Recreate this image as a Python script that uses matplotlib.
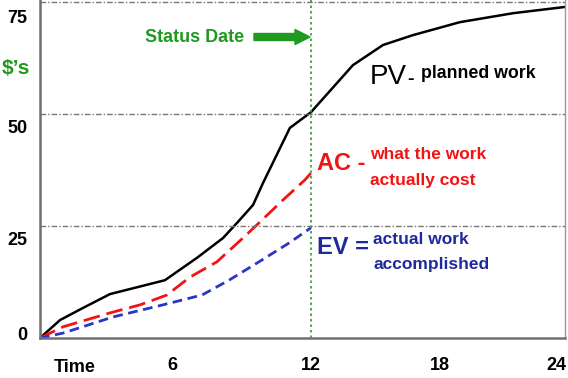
import numpy as np
import matplotlib
matplotlib.use("Agg")
import matplotlib.pyplot as plt
from matplotlib.transforms import ScaledTranslation

# ---- data ----
pv_x = [0, 0.91, 1.95, 3.18, 5.68, 7.08, 8.2, 8.81, 9.5, 9.93, 11.09, 12.0, 13.95, 15.35, 16.74, 19.03, 21.78, 24.47]
pv_y = [0, 4.0, 6.7, 9.8, 12.9, 17.9, 22.3, 25.7, 29.7, 34.6, 46.9, 50.4, 60.9, 65.4, 67.6, 70.5, 72.5, 73.9]
ac_x = [0, 1.05, 3.18, 4.55, 5.77, 6.78, 7.94, 9.06, 9.8, 10.79, 11.74, 12.0]
ac_y = [0, 2.5, 5.6, 7.4, 9.6, 13.6, 17.0, 22.3, 25.9, 30.8, 35.3, 36.8]
ev_x = [0, 1.05, 3.32, 5.59, 7.3, 8.46, 9.88, 11.05, 12.0]
ev_y = [0, 1.1, 4.7, 7.4, 9.6, 12.9, 17.4, 21.2, 24.6]
status_date = 12
x_ticks = [6, 12, 18, 24]
y_ticks = [0, 25, 50, 75]

# piecewise axis scale (the original drawing's time axis is not uniform)
_d = np.array([-10, 0, 6, 12, 18, 24, 34], dtype=float)
_p = np.array([-180, 40, 172, 311, 440, 556, 749.3], dtype=float)
def fwd(x):
    return np.interp(x, _d, _p)
def inv(p):
    return np.interp(p, _p, _d)

FONT = ['Liberation Sans Narrow', 'Liberation Sans', 'DejaVu Sans']
plt.rcParams['font.family'] = FONT

fig = plt.figure(figsize=(5.68, 3.78), dpi=100)
ax = fig.add_axes([40/568, 40/378, 525/568, 338/378])
ax.set_xscale('function', functions=(fwd, inv))
ax.set_xlim(0, 24.47)
ax.set_ylim(0, 75.45)

green = '#1f9a1f'
ax.plot(pv_x, pv_y, color='black', lw=1.8, solid_capstyle='round', solid_joinstyle='round')
ax.plot(ac_x, ac_y, color='#f01414', lw=2.0, dashes=(6, 2.5))
ax.plot(ev_x, ev_y, color='#2a35c8', lw=2.0, dashes=(3.5, 2))

# grid
for yv in [25, 50, 75]:
    ax.axhline(yv, color='#777777', lw=1.0, dashes=(4, 1.5, 1, 1.5))
ax.axvline(status_date, color='#2aa02a', lw=1.2, dashes=(1.5, 1.8))

ax.spines['top'].set_visible(False)
for s in ['left', 'bottom']:
    ax.spines[s].set_color('#707070')
    ax.spines[s].set_linewidth(1.8)
ax.spines['right'].set_color('#999999')
ax.spines['right'].set_linewidth(1.0)

ax.set_xticks(x_ticks)
ax.set_xticklabels([str(t) for t in x_ticks])
ax.set_yticks(y_ticks)
ax.set_yticklabels([str(t) for t in y_ticks])
ax.tick_params(length=0, labelsize=13)
for lab in ax.get_xticklabels() + ax.get_yticklabels():
    lab.set_fontweight('bold')
ax.tick_params(axis='x', pad=14)
ax.tick_params(axis='y', pad=9)
# original labels sit slightly below their grid lines
offs = {0: 5, 25: -12, 50: -12, 75: -14}
for t, lab in zip(y_ticks, ax.get_yticklabels()):
    lab.set_transform(lab.get_transform() + ScaledTranslation(0, offs[t]/100, fig.dpi_scale_trans))

fig.text(75/568, 1 - 368/378, 'Time', ha='center', va='center', fontsize=13, fontweight='bold', color='black')
fig.text(16/568, 1 - 68/378, '$\u2019s', ha='center', va='center', fontsize=15, fontweight='bold', color=green)

# Status date annotation
fig.text(195/568, 1 - 37/378, 'Status Date', ha='center', va='center', fontsize=13, fontweight='bold', color=green)
arr_y = 1 - 37/378
fig.patches.append(matplotlib.patches.FancyArrow(254/568, arr_y, 56/568, 0, width=7/378,
                   head_width=15/378, head_length=15/568, length_includes_head=True,
                   color=green, transform=fig.transFigure, figure=fig))

# PV
fig.text(370/568, 1 - 77/378, 'PV', ha='left', va='center', fontsize=20, color='black')
fig.text(407/568, 1 - 80/378, '-', ha='left', va='center', fontsize=14, fontweight='bold', color='black')
fig.text(421/568, 1 - 73/378, 'planned work', ha='left', va='center', fontsize=12.8, fontweight='bold', color='black')

# AC
red = '#f01414'
fig.text(317/568, 1 - 164/378, 'AC -', ha='left', va='center', fontsize=17, fontweight='bold', color=red)
fig.text(370/568, 1 - 155/378, 'what the work', ha='left', va='center', fontsize=12.5, fontweight='bold', color=red)
fig.text(370/568, 1 - 180/378, 'actually cost', ha='left', va='center', fontsize=12.5, fontweight='bold', color=red)

# EV
navy = '#1e2a9c'
fig.text(317/568, 1 - 247/378, 'EV =', ha='left', va='center', fontsize=17, fontweight='bold', color=navy)
fig.text(373/568, 1 - 240/378, 'actual work', ha='left', va='center', fontsize=12.5, fontweight='bold', color=navy)
fig.text(373/568, 1 - 264/378, 'accomplished', ha='left', va='center', fontsize=12.5, fontweight='bold', color=navy)

fig.savefig('out.png', dpi=100)
